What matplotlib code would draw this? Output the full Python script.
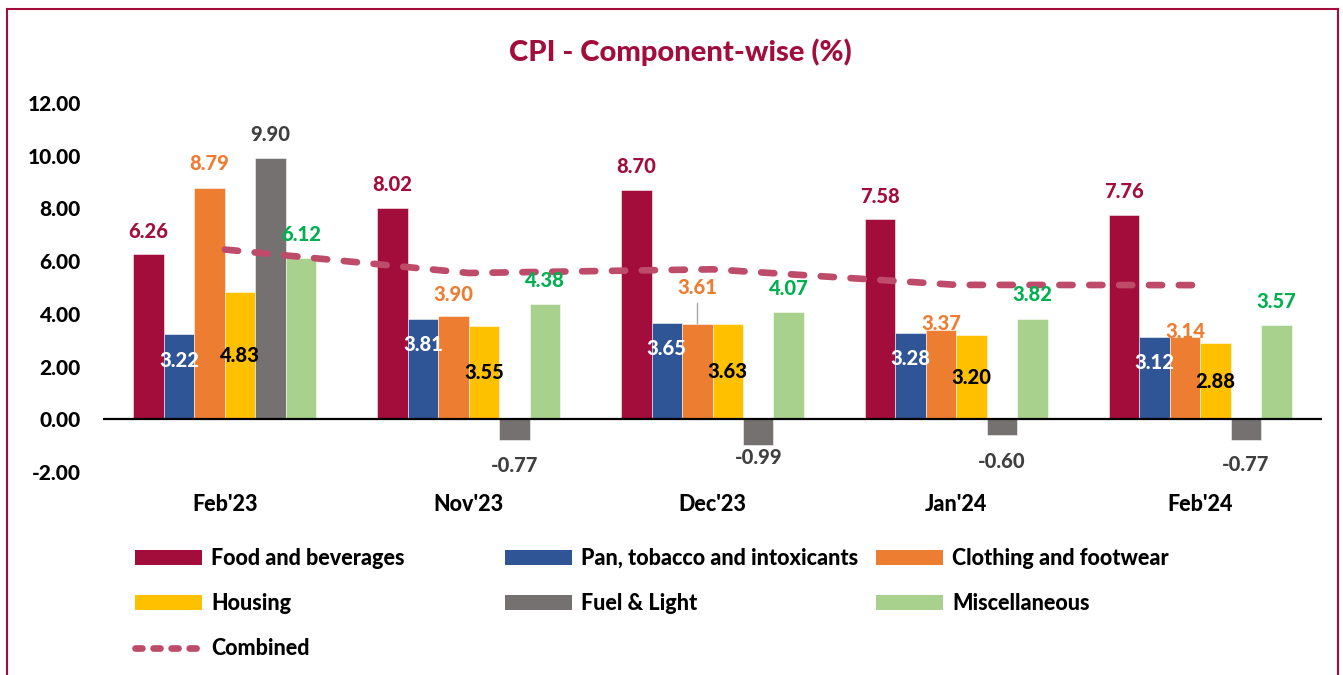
import matplotlib
matplotlib.use("Agg")
import matplotlib.pyplot as plt
from matplotlib.patches import Patch
from matplotlib.lines import Line2D
import numpy as np

# ---------------- data ----------------
months = ["Feb'23", "Nov'23", "Dec'23", "Jan'24", "Feb'24"]
food = [6.26, 8.02, 8.70, 7.58, 7.76]
pan = [3.22, 3.81, 3.65, 3.28, 3.12]
clothing = [8.79, 3.90, 3.61, 3.37, 3.14]
housing = [4.83, 3.55, 3.63, 3.20, 2.88]
fuel = [9.90, -0.77, -0.99, -0.60, -0.77]
misc = [6.12, 4.38, 4.07, 3.82, 3.57]
combined = [6.44, 5.55, 5.69, 5.10, 5.09]
series_names = ["Food and beverages", "Pan, tobacco and intoxicants",
                "Clothing and footwear", "Housing", "Fuel & Light",
                "Miscellaneous"]
yticks = [-2, 0, 2, 4, 6, 8, 10, 12]

# ---------------- style ----------------
FONT = "Lato"
W = 'black'
plt.rcParams['font.family'] = [FONT, 'DejaVu Sans']
plt.rcParams['lines.scale_dashes'] = False
C_FOOD = "#A20D3B"
C_PAN = "#2F5597"
C_CLOTH = "#ED7D31"
C_HOUSE = "#FFC000"
C_FUEL = "#767171"
C_MISC = "#A9D18E"
C_COMB = "#BE4B6A"
bar_colors = [C_FOOD, C_PAN, C_CLOTH, C_HOUSE, C_FUEL, C_MISC]

fig = plt.figure(figsize=(13.43, 6.75), dpi=100)
ax = fig.add_axes([103/1343, 1-472/675, (1322-103)/1343, (472-103)/675])

x = np.arange(len(months))
w = 0.125
all_series = [food, pan, clothing, housing, fuel, misc]
for j, (vals, col) in enumerate(zip(all_series, bar_colors)):
    ax.bar(x + (j - 2.5) * w, vals, width=w, color=col,
           edgecolor=(1, 1, 1, 0.6), linewidth=0.6, zorder=2)

# combined line
comb_line, = ax.plot(x, combined, color=C_COMB, lw=4.8, zorder=4,
                     solid_capstyle='round', dash_capstyle='round')
comb_line.set_dashes([9.5, 12])

ax.axhline(0, color="black", lw=1.6, zorder=3)
ax.set_xlim(-0.5, 4.5)
ax.set_ylim(-2, 12)
ax.set_yticks(yticks)
ax.set_yticklabels([f"{t:.2f}" for t in yticks], fontsize=15, fontweight=W)
ax.set_xticks(x)
ax.set_xticklabels(months, fontsize=15.5, fontweight=W)
ax.tick_params(axis='y', length=0, pad=16)
ax.tick_params(axis='x', length=0, pad=16)
for s in ax.spines.values():
    s.set_visible(False)

# ---------------- data labels ----------------
LFS = 14.5
cloth_off = [0.9, 0.85, 1.4, 0.25, 0.2]
fuel_off = [0.9, -1.0, -0.45, -1.0, -0.93]
for i in range(len(months)):
    xi = x[i]
    ax.text(xi - 2.5 * w, food[i] + 0.88, f"{food[i]:.2f}", color=C_FOOD,
            ha='center', va='center', fontsize=LFS, fontweight=W, zorder=5)
    ax.text(xi - 1.5 * w, pan[i] - 0.98, f"{pan[i]:.2f}", color="white",
            ha='center', va='center', fontsize=LFS, fontweight=W, zorder=5)
    ax.text(xi - 0.5 * w, clothing[i] + cloth_off[i], f"{clothing[i]:.2f}",
            color=C_CLOTH, ha='center', va='center', fontsize=LFS,
            fontweight=W, zorder=5)
    ax.text(xi + 0.5 * w, housing[i] / 2, f"{housing[i]:.2f}", color="black",
            ha='center', va='center', fontsize=LFS, fontweight=W, zorder=5)
    ax.text(xi + 1.5 * w, fuel[i] + fuel_off[i], f"{fuel[i]:.2f}",
            color="#3F3F3F", ha='center', va='center', fontsize=LFS,
            fontweight=W, zorder=5)
    ax.text(xi + 2.5 * w, misc[i] + 0.9, f"{misc[i]:.2f}", color="#00B050",
            ha='center', va='center', fontsize=LFS, fontweight=W, zorder=5)

# leader line for Dec'23 clothing label
ax.plot([x[2] - 0.5 * w] * 2, [clothing[2], clothing[2] + cloth_off[2] - 0.6],
        color="#A6A6A6", lw=1, zorder=1)

# ---------------- title ----------------
fig.text(680/1343, 1 - 52/675, "CPI - Component-wise (%)", color=C_FOOD,
         ha='center', va='center', fontsize=21, fontweight=W)

# ---------------- legend ----------------
handles = [Patch(facecolor=c) for c in bar_colors]
comb_h = Line2D([], [], color=C_COMB, lw=4.8, dash_capstyle='round')
comb_h.set_dashes([5, 8])
leg_kw = dict(frameon=False, handlelength=3.1, handleheight=0.65,
              handletextpad=0.45, labelspacing=1.12, borderpad=0,
              borderaxespad=0, loc='upper left',
              prop=dict(family=[FONT, 'DejaVu Sans'], weight=W, size=15.5))
cols = [([handles[0], handles[3], comb_h], [series_names[0], series_names[3], "Combined"], 135),
        ([handles[1], handles[4]], [series_names[1], series_names[4]], 505),
        ([handles[2], handles[5]], [series_names[2], series_names[5]], 876)]
for hs, ls, px in cols:
    fig.legend(hs, ls, bbox_to_anchor=(px/1343, 1 - 548/675), **leg_kw)

# ---------------- border ----------------
bc = C_FOOD
fig.add_artist(Line2D([7/1343, 7/1343], [0, 1 - 9/675], color=bc, lw=1.5))
fig.add_artist(Line2D([7/1343, 1338/1343], [1 - 9/675, 1 - 9/675], color=bc, lw=1.5))
fig.add_artist(Line2D([1338/1343, 1338/1343], [0, 1 - 9/675], color=bc, lw=1.5))

fig.savefig("out.png", dpi=100)
